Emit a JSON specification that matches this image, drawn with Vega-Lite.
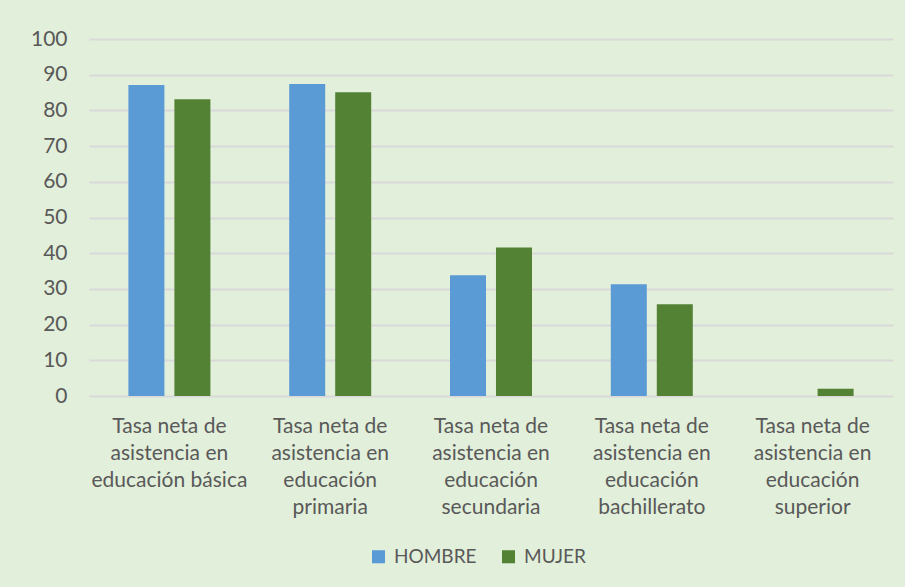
{
  "$schema": "https://vega.github.io/schema/vega-lite/v6.json",
  "width": 804,
  "height": 357,
  "autosize": {"type": "none"},
  "padding": {"left": 89, "top": 39, "right": 12, "bottom": 191},
  "background": "#e2efda",
  "data": {
    "values": [
      {"cat": "Tasa neta de|asistencia en|educación básica", "sexo": "HOMBRE", "valor": 87.1},
      {"cat": "Tasa neta de|asistencia en|educación básica", "sexo": "MUJER", "valor": 83.1},
      {"cat": "Tasa neta de|asistencia en|educación|primaria", "sexo": "HOMBRE", "valor": 87.4},
      {"cat": "Tasa neta de|asistencia en|educación|primaria", "sexo": "MUJER", "valor": 85.1},
      {"cat": "Tasa neta de|asistencia en|educación|secundaria", "sexo": "HOMBRE", "valor": 33.8},
      {"cat": "Tasa neta de|asistencia en|educación|secundaria", "sexo": "MUJER", "valor": 41.6},
      {"cat": "Tasa neta de|asistencia en|educación|bachillerato", "sexo": "HOMBRE", "valor": 31.3},
      {"cat": "Tasa neta de|asistencia en|educación|bachillerato", "sexo": "MUJER", "valor": 25.7},
      {"cat": "Tasa neta de|asistencia en|educación|superior", "sexo": "HOMBRE", "valor": 0},
      {"cat": "Tasa neta de|asistencia en|educación|superior", "sexo": "MUJER", "valor": 2.0}
    ]
  },
  "mark": {"type": "bar"},
  "encoding": {
    "x": {
      "field": "cat",
      "type": "nominal",
      "sort": null,
      "title": null,
      "scale": {"paddingInner": 0.49, "paddingOuter": 0.245},
      "axis": {
        "labelAngle": 0,
        "labelExpr": "split(datum.label, '|')",
        "labelFont": "Lato",
        "labelFontSize": 21,
        "labelColor": "#595959",
        "labelLineHeight": 27,
        "labelPadding": 19,
        "labelLimit": 0,
        "domain": false,
        "ticks": false,
        "grid": false
      }
    },
    "xOffset": {
      "field": "sexo",
      "type": "nominal",
      "scale": {"paddingInner": 0.217, "paddingOuter": 0}
    },
    "y": {
      "field": "valor",
      "type": "quantitative",
      "title": null,
      "scale": {"domain": [0, 100], "nice": false},
      "axis": {
        "values": [0, 10, 20, 30, 40, 50, 60, 70, 80, 90, 100],
        "labelFont": "Lato",
        "labelFontSize": 21,
        "labelColor": "#595959",
        "labelPadding": 22,
        "domain": false,
        "ticks": false,
        "grid": true,
        "gridColor": "#d9d9d9",
        "gridWidth": 2
      }
    },
    "color": {
      "field": "sexo",
      "type": "nominal",
      "title": null,
      "scale": {"domain": ["HOMBRE", "MUJER"], "range": ["#5b9bd5", "#548235"]},
      "legend": {
        "orient": "none",
        "legendX": 280,
        "legendY": 508,
        "direction": "horizontal",
        "symbolType": "square",
        "symbolSize": 170,
        "symbolStrokeWidth": 0,
        "labelFont": "Lato",
        "labelFontSize": 19,
        "labelOffset": 6,
        "labelColor": "#595959",
        "columnPadding": 22
      }
    }
  },
  "config": {
    "view": {"stroke": null}
  }
}
